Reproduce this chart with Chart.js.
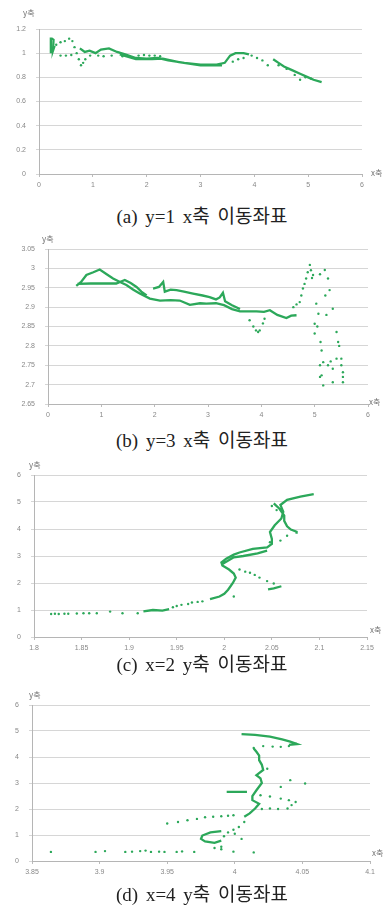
<!DOCTYPE html>
<html>
<head>
<meta charset="utf-8">
<script src="https://cdn.jsdelivr.net/npm/chart.js@4.4.1/dist/chart.umd.min.js"></script>
<style>
  html, body { margin: 0; padding: 0; background: #fff; }
  #page { position: relative; width: 387px; height: 909px; overflow: hidden; }
  canvas { position: absolute; left: 0; }
  .cap { position: absolute; left: 0; width: 404px; text-align: center;
         font-family: "Liberation Serif", "Noto Sans CJK KR", serif; font-size: 19px;
         color: #222; line-height: 22px; word-spacing: 3px; }
</style>
</head>
<body>
<div id="page">
  <canvas id="ca" width="387" height="195" style="top:0px"></canvas>
  <div class="cap" style="top:206px">(a) y=1 x축 이동좌표</div>
  <canvas id="cb" width="387" height="200" style="top:228px"></canvas>
  <div class="cap" style="top:430px">(b) y=3 x축 이동좌표</div>
  <canvas id="cc" width="387" height="200" style="top:455px"></canvas>
  <div class="cap" style="top:654px">(c) x=2 y축 이동좌표</div>
  <canvas id="cd" width="387" height="195" style="top:685px"></canvas>
  <div class="cap" style="top:884px">(d) x=4 y축 이동좌표</div>
</div>
<script>
// (a) y=1, moving along x
const aLineX = [0.22,0.22,0.24,0.27,0.26,0.29, null, 0.76,0.85,0.94,1.05,1.15,1.3,1.45,1.6,1.8,2.0,2.2,2.4,2.7,3.0,3.3,3.45,3.55,3.65,3.8,3.9, null, 1.5,1.8,2.1,2.3,2.6,3.0,3.4, null, 4.35,4.45,4.55,4.7,4.85,5.0,5.1,5.25];
const aLineY = [1.0,1.12,1.12,1.11,1.02,1.06, null, 1.04,1.01,1.02,1.0,1.03,1.04,1.01,0.99,0.96,0.955,0.96,0.94,0.92,0.905,0.905,0.92,0.98,1.0,1.0,0.99, null, 0.99,0.95,0.95,0.955,0.925,0.9,0.9, null, 0.95,0.92,0.89,0.86,0.83,0.8,0.78,0.76];
const aDotX = [0.32,0.4,0.48,0.56,0.62,0.66,0.7,0.74,0.78,0.82,0.86, 0.4,0.5,0.6,0.95,1.1,1.2,1.35,1.55,1.85,1.95,2.05,2.15,2.25, 3.6,3.7,3.8,3.95,4.05,4.15,4.25,4.45,4.6,4.75,4.85,4.95,5.05];
const aDotY = [1.07,1.09,1.1,1.12,1.1,1.05,1.0,0.95,0.9,0.92,0.95, 0.98,0.98,0.985,0.98,0.98,0.975,0.98,0.975,0.98,0.985,0.98,0.98,0.975, 0.93,0.95,0.96,0.98,0.96,0.94,0.9,0.9,0.87,0.82,0.78,0.8,0.79];

// (b) y=3, moving along x
const bLineX = [0.53,0.62,0.72,0.85,0.97,1.1,1.22,1.35,1.47,1.6,1.72,1.91,2.1,2.3,2.47,2.66,2.85,2.97,3.15,3.3,3.45,3.6,3.75,3.91,4.05,4.16,4.3,4.47,4.56,4.66, null,
  0.55,0.8,1.05,1.28,1.44,1.55,1.66,1.75,1.85, null,
  1.97,2.08,2.16,2.19,2.3,2.41,2.55,2.72,2.9,3.03,3.15,3.22,3.28,3.32,3.45,3.6];
const bLineY = [2.955,2.965,2.983,2.99,2.997,2.985,2.974,2.965,2.957,2.945,2.935,2.922,2.917,2.918,2.917,2.906,2.91,2.909,2.91,2.905,2.895,2.889,2.889,2.889,2.888,2.892,2.88,2.872,2.878,2.879, null,
  2.96,2.961,2.961,2.961,2.97,2.962,2.952,2.94,2.93, null,
  2.948,2.952,2.965,2.94,2.945,2.944,2.94,2.935,2.93,2.926,2.92,2.925,2.937,2.915,2.905,2.895];
const bDotX = [3.78,3.85,3.9,3.94,3.97,4.03,4.06, 4.6,4.66,4.72,4.75,4.78,4.81,4.84,4.87,4.91,4.93,4.97,4.95,
  5.03,5.07,5.0,5.05,5.0,5.11,5.13,5.16,5.1,5.13,5.16,5.1,
  5.19,5.1,5.25,5.28,5.2,5.34,5.22,5.41,5.44,5.46,5.41,5.34,5.34,5.5,5.5,5.53,5.53,5.53,5.3,5.25];
const bDotY = [2.866,2.85,2.84,2.836,2.84,2.858,2.87, 2.9,2.907,2.913,2.93,2.948,2.96,2.974,2.99,3.009,2.995,2.983,2.975,
  2.909,2.883,2.857,2.85,2.832,2.81,2.788,2.758,2.75,2.724,2.698,2.72,
  2.996,2.985,2.974,2.944,2.93,2.896,2.88,2.836,2.81,2.8,2.767,2.741,2.706,2.767,2.75,2.732,2.72,2.706,2.76,2.75];

// (c) x=2, moving along y
const cLineX = [1.915,1.925,1.935,1.942, null,
  1.985,1.995,2.0,2.004,2.009,2.012,2.01,2.005,1.998,1.997,2.002,2.01,2.016,2.03,2.045,2.05,2.05,2.048,2.053,2.06,2.062,2.059,2.066,2.08,2.094, null,
  2.052,2.058,2.063,2.063,2.066,2.07,2.076,2.076, null,
  2.046,2.052,2.06, null,
  1.998,2.01,2.02,2.035,2.045];
const cLineY = [0.95,1.0,0.98,1.03, null,
  1.4,1.5,1.6,1.75,2.0,2.2,2.35,2.5,2.65,2.76,2.9,3.05,3.13,3.26,3.32,3.45,3.63,3.89,4.14,4.39,4.64,4.89,5.08,5.2,5.29, null,
  4.95,4.75,4.5,4.3,4.1,3.98,3.9,3.82, null,
  1.76,1.8,1.88, null,
  2.7,2.95,3.0,3.1,3.2];
const cDotX = [1.818,1.822,1.826,1.832,1.836,1.845,1.852,1.858,1.866,1.88,1.893,1.909,1.946,1.95,1.955,1.962,1.966,1.972,1.977,2.01,
  2.016,2.022,2.027,2.032,2.037,2.045,2.052, 2.059,2.048,2.066,2.055,2.05];
const cDotY = [0.85,0.86,0.85,0.86,0.86,0.87,0.88,0.88,0.88,0.94,0.88,0.88,1.1,1.15,1.19,1.22,1.28,1.3,1.32,1.5,
  2.5,2.42,2.38,2.3,2.2,2.07,1.98, 3.57,3.51,3.75,4.7,4.85];

// (d) x=4, moving along y
const dLineX = [4.005,4.015,4.026,4.035,4.041,4.046,4.04, null,
  4.014,4.016,4.018,4.018,4.02,4.021,4.016,4.019,4.02,4.016,4.013,4.013,4.018,4.015,4.011,4.007, null,
  3.994,4.009, null,
  3.99,3.982,3.976,3.975,3.978,3.985,3.99];
const dLineY = [4.88,4.85,4.78,4.68,4.59,4.5,4.47, null,
  4.33,4.2,4.05,3.88,3.7,3.5,3.3,3.18,3.0,2.72,2.5,2.34,2.2,2.02,1.83,1.7, null,
  2.66,2.66, null,
  1.15,1.1,0.98,0.85,0.75,0.7,0.78];
const dDotX = [4.04,4.034,4.028,4.021,4.014,
  4.019,4.026,4.034,4.04,4.045,4.042,4.039,4.032,4.026,4.02,
  4.041,4.052,4.034,4.024,
  3.95,3.958,3.965,3.972,3.978,3.984,3.99,3.995,3.999,
  3.995,3.999,4.003,4.007,4.0,3.992,4.005,3.99,3.985,3.99,
  3.864,3.897,3.904,3.919,3.924,3.93,3.934,3.938,3.944,3.948,3.957,3.961,3.97,3.999,4.014];
const dDotY = [4.42,4.39,4.4,4.42,4.35,
  2.53,2.48,2.4,2.34,2.27,2.15,2.02,2.0,2.02,2.0,
  3.11,2.98,2.85,3.55,
  1.44,1.5,1.57,1.62,1.68,1.7,1.72,1.74,1.76,
  1.1,1.2,1.31,1.5,1.05,0.95,0.85,0.55,0.5,0.45,
  0.35,0.35,0.38,0.35,0.36,0.38,0.4,0.35,0.36,0.35,0.35,0.37,0.35,0.36,0.33];

const green = 'rgb(44,168,90)';
const pts = (xs, ys) => xs.map((x, i) => ({ x: x, y: ys[i] }));
const fmt = v => String(+v.toFixed(2));

// draws the "y축" / "x축" axis tags beside the plot
const axisTags = {
  id: 'axisTags',
  afterDraw(chart, args, opts) {
    const c = chart.ctx;
    c.save();
    c.font = '8px "Noto Sans CJK KR", sans-serif';
    c.fillStyle = '#777';
    c.textBaseline = 'middle';
    c.fillText('y축', opts.y[0], opts.y[1]);
    c.fillText('x축', opts.x[0], opts.x[1]);
    c.restore();
  }
};

function build(id, box, xr, yr, lx, ly, dx, dy, tags) {
  const cv = document.getElementById(id);
  const W = cv.width, H = cv.height;
  const tickFont = { family: 'Liberation Sans', size: 7 };
  new Chart(cv, {
    type: 'scatter',
    data: {
      datasets: [
        { data: pts(lx, ly), showLine: true, spanGaps: false, borderColor: green,
          borderWidth: 2.3, pointRadius: 0, tension: 0 },
        { data: pts(dx, dy), pointRadius: 1.2, pointBackgroundColor: green,
          pointBorderWidth: 0, borderColor: green }
      ]
    },
    options: {
      responsive: false,
      animation: false,
      layout: { padding: { top: box[1], right: W - box[2], left: 0, bottom: 0 } },
      plugins: { legend: { display: false }, tooltip: { enabled: false }, axisTags: tags },
      scales: {
        x: {
          type: 'linear', min: xr[0], max: xr[1],
          ticks: { stepSize: xr[2], callback: fmt, font: tickFont, color: '#888',
                   maxRotation: 0, autoSkip: false, padding: 4 },
          grid: { drawOnChartArea: false, tickLength: 3, color: '#bbb' },
          border: { color: '#b5b5b5' },
          afterFit: s => { s.height = H - box[3]; }
        },
        y: {
          min: yr[0], max: yr[1],
          ticks: { stepSize: yr[2], callback: fmt, font: tickFont, color: '#888', padding: 10 },
          grid: { color: '#d6d6d6', tickLength: 3 },
          border: { color: '#b5b5b5' },
          afterFit: s => { s.width = box[0]; }
        }
      }
    },
    plugins: [axisTags]
  });
}

build('ca', [39, 29, 362, 174], [0, 6, 1], [0, 1.2, 0.2], aLineX, aLineY, aDotX, aDotY,
  { y: [23, 13], x: [371, 173] });
build('cb', [48, 21, 368, 176], [0, 6, 1], [2.65, 3.05, 0.05], bLineX, bLineY, bDotX, bDotY,
  { y: [42, 11], x: [369, 174] });
build('cc', [34, 20, 367, 182], [1.8, 2.15, 0.05], [0, 6, 1], cLineX, cLineY, cDotX, cDotY,
  { y: [29, 10], x: [370, 175] });
build('cd', [32, 20, 370, 176], [3.85, 4.1, 0.05], [0, 6, 1], dLineX, dLineY, dDotX, dDotY,
  { y: [29, 10], x: [372, 168] });
</script>
</body>
</html>
